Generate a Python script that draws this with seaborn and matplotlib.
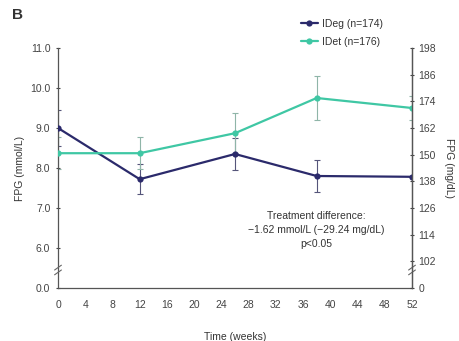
import numpy as np
import pandas as pd
import matplotlib
matplotlib.use("Agg")
import matplotlib.pyplot as plt
import seaborn as sns

# Mean FPG (mmol/L) over time with error bars
weeks = [0, 12, 26, 38, 52]
ideg_mean = [9.0, 7.72, 8.35, 7.80, 7.78]
ideg_err = [0.45, 0.37, 0.40, 0.40, 0.0]
idet_mean = [8.37, 8.37, 8.87, 9.75, 9.50]
idet_err = [0.40, 0.40, 0.50, 0.55, 0.30]
series_names = ["IDeg (n=174)", "IDet (n=176)"]

x_ticks = list(range(0, 53, 4))
left_ticks = [5.0, 6.0, 7.0, 8.0, 9.0, 10.0, 11.0]
left_labels = ["0.0", "6.0", "7.0", "8.0", "9.0", "10.0", "11.0"]
right_mgdl = [102, 114, 126, 138, 150, 162, 174, 186, 198]

navy = "#2b2a6b"
teal = "#3fc7a4"

sns.set_theme(style="white")
plt.rcParams["font.family"] = ["Liberation Sans", "DejaVu Sans"]

df = pd.DataFrame({
    "Time": weeks * 2,
    "FPG": ideg_mean + idet_mean,
    "Group": [series_names[0]] * len(weeks) + [series_names[1]] * len(weeks),
})

fig = plt.figure(figsize=(4.59, 3.41), dpi=100)
ax = fig.add_axes([58 / 459, 1 - 288 / 341, (412 - 58) / 459, (288 - 48) / 341])

# error bars first, underneath the lines
ax.errorbar(weeks, ideg_mean, yerr=ideg_err, fmt="none", ecolor="#55557a",
            elinewidth=0.8, capsize=2, capthick=0.8, zorder=2)
ax.errorbar(weeks, idet_mean, yerr=idet_err, fmt="none", ecolor="#8fb5a8",
            elinewidth=0.8, capsize=2, capthick=0.8, zorder=2)

sns.lineplot(data=df, x="Time", y="FPG", hue="Group",
             palette=[navy, teal], marker="o", markersize=4.5,
             markeredgewidth=0, linewidth=1.6, ax=ax, zorder=3)

ax.set_xlim(0, 52)
ax.set_ylim(5.0, 11.0)
ax.set_xticks(x_ticks)
ax.set_xticklabels([str(t) for t in x_ticks])
ax.set_yticks(left_ticks)
ax.set_yticklabels(left_labels)
ax.set_xlabel("Time (weeks)", fontsize=7.5, color="#333333", labelpad=16)
ax.set_ylabel("FPG (mmol/L)", fontsize=7.5, color="#333333", labelpad=4)

ax.spines["top"].set_visible(False)
for side in ["left", "bottom", "right"]:
    ax.spines[side].set_color("#555555")
    ax.spines[side].set_linewidth(0.9)

ax.tick_params(axis="both", labelsize=7.5, colors="#444444", length=3,
               width=0.8, direction="inout", pad=4)
ax.tick_params(axis="x", pad=7)

# secondary axis in mg/dL
ax2 = ax.twinx()
ax2.set_ylim(ax.get_ylim())
ax2.set_yticks([5.0] + [v / 18 for v in right_mgdl])
ax2.set_yticklabels(["0"] + [str(v) for v in right_mgdl])
ax2.set_ylabel("FPG (mg/dL)", fontsize=7.5, color="#333333", rotation=270, labelpad=13)
ax2.tick_params(axis="y", labelsize=7.5, colors="#444444", length=3,
                width=0.8, direction="inout", pad=3)
for side in ["top", "left", "bottom"]:
    ax2.spines[side].set_visible(False)
ax2.spines["right"].set_color("#555555")
ax2.spines["right"].set_linewidth(0.9)

# axis break marks
for xpos in [0, 52]:
    for dy in [-0.06, 0.06]:
        ax.plot([xpos - 0.5, xpos + 0.5], [5.45 + dy - 0.06, 5.45 + dy + 0.06],
                color="#666666", lw=0.8, clip_on=False, zorder=4)

leg = ax.legend(loc="upper left", bbox_to_anchor=(0.66, 1.16), frameon=False,
                fontsize=7.5, handlelength=1.6, handletextpad=0.4, labelspacing=0.75)
for t in leg.get_texts():
    t.set_color("#333333")

ax.text(0.73, 0.24, "Treatment difference:\n\u22121.62 mmol/L (\u221229.24 mg/dL)\np<0.05",
        transform=ax.transAxes, ha="center", va="center", fontsize=7.5,
        color="#333333", linespacing=1.5)

fig.text(12 / 459, 1 - 15 / 341, "B", fontsize=11, fontweight="bold",
         color="#333333", ha="left", va="center")

fig.savefig("out.png", dpi=100)
